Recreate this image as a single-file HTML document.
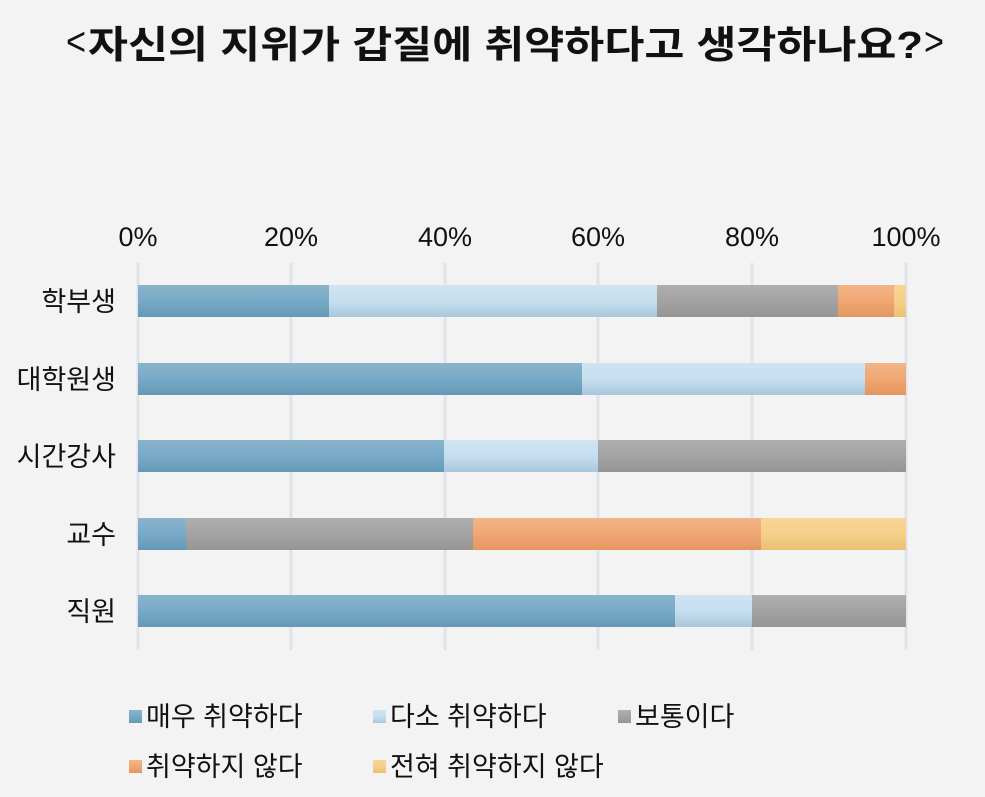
<!DOCTYPE html>
<html><head><meta charset="utf-8"><style>
html,body{margin:0;padding:0;background:#f3f3f3;}
svg{display:block;}
text{font-family:"Liberation Sans","Noto Sans CJK KR",sans-serif;fill:#111;}
</style></head><body>
<svg width="985" height="797" viewBox="0 0 985 797" xmlns="http://www.w3.org/2000/svg">
<defs>
<linearGradient id="b" x1="0" y1="0" x2="0" y2="1"><stop offset="0" stop-color="#8ab3cb"/><stop offset="0.5" stop-color="#78aac7"/><stop offset="1" stop-color="#6499b6"/></linearGradient>
<linearGradient id="l" x1="0" y1="0" x2="0" y2="1"><stop offset="0" stop-color="#d1e3f0"/><stop offset="0.5" stop-color="#c5dff0"/><stop offset="1" stop-color="#aac6dc"/></linearGradient>
<linearGradient id="g" x1="0" y1="0" x2="0" y2="1"><stop offset="0" stop-color="#afafaf"/><stop offset="0.5" stop-color="#a3a3a3"/><stop offset="1" stop-color="#959595"/></linearGradient>
<linearGradient id="o" x1="0" y1="0" x2="0" y2="1"><stop offset="0" stop-color="#f2b587"/><stop offset="0.5" stop-color="#f0a774"/><stop offset="1" stop-color="#e4965f"/></linearGradient>
<linearGradient id="y" x1="0" y1="0" x2="0" y2="1"><stop offset="0" stop-color="#f6d595"/><stop offset="0.5" stop-color="#f6d08a"/><stop offset="1" stop-color="#e9c073"/></linearGradient>
</defs>
<rect width="985" height="797" fill="#f3f3f3"/>
<text x="66" y="55" font-size="40" textLength="20" lengthAdjust="spacingAndGlyphs">&lt;</text>
<text x="88" y="58" font-size="38" font-weight="bold" textLength="835" lengthAdjust="spacingAndGlyphs">자신의 지위가 갑질에 취약하다고 생각하나요?</text>
<text x="924" y="55" font-size="40" textLength="20" lengthAdjust="spacingAndGlyphs">&gt;</text>
<g stroke="#dfe3ea" stroke-width="3">
<line x1="138" y1="263" x2="138" y2="650"/><line x1="291" y1="263" x2="291" y2="650"/><line x1="445" y1="263" x2="445" y2="650"/><line x1="598" y1="263" x2="598" y2="650"/><line x1="752" y1="263" x2="752" y2="650"/><line x1="906" y1="263" x2="906" y2="650"/>
</g>
<g font-size="27" text-anchor="middle">
<text x="138" y="246">0%</text><text x="291" y="246">20%</text><text x="445" y="246">40%</text><text x="598" y="246">60%</text><text x="752" y="246">80%</text><text x="906" y="246">100%</text>
</g>
<g font-size="27" text-anchor="end">
<text x="116" y="311">학부생</text><text x="116" y="389">대학원생</text><text x="116" y="466">시간강사</text><text x="116" y="544">교수</text><text x="116" y="621">직원</text>
</g>
<g>
<rect x="138" y="285" width="191" height="32" fill="url(#b)"/><rect x="329" y="285" width="328" height="32" fill="url(#l)"/><rect x="657" y="285" width="181" height="32" fill="url(#g)"/><rect x="838" y="285" width="56" height="32" fill="url(#o)"/><rect x="894" y="285" width="12" height="32" fill="url(#y)"/>
<rect x="138" y="363" width="444" height="32" fill="url(#b)"/><rect x="582" y="363" width="283" height="32" fill="url(#l)"/><rect x="865" y="363" width="41" height="32" fill="url(#o)"/>
<rect x="138" y="440" width="306" height="32" fill="url(#b)"/><rect x="444" y="440" width="154" height="32" fill="url(#l)"/><rect x="598" y="440" width="308" height="32" fill="url(#g)"/>
<rect x="138" y="518" width="48" height="32" fill="url(#b)"/><rect x="186" y="518" width="287" height="32" fill="url(#g)"/><rect x="473" y="518" width="288" height="32" fill="url(#o)"/><rect x="761" y="518" width="145" height="32" fill="url(#y)"/>
<rect x="138" y="595" width="537" height="32" fill="url(#b)"/><rect x="675" y="595" width="77" height="32" fill="url(#l)"/><rect x="752" y="595" width="154" height="32" fill="url(#g)"/>
</g>
<g font-size="27">
<rect x="129" y="710" width="13" height="13" fill="url(#b)"/><text x="146" y="726">매우 취약하다</text>
<rect x="373" y="710" width="13" height="13" fill="url(#l)"/><text x="390" y="726">다소 취약하다</text>
<rect x="618" y="710" width="13" height="13" fill="url(#g)"/><text x="635" y="726">보통이다</text>
<rect x="129" y="760" width="13" height="13" fill="url(#o)"/><text x="146" y="776">취약하지 않다</text>
<rect x="373" y="760" width="13" height="13" fill="url(#y)"/><text x="390" y="776">전혀 취약하지 않다</text>
</g>
</svg>
</body></html>
